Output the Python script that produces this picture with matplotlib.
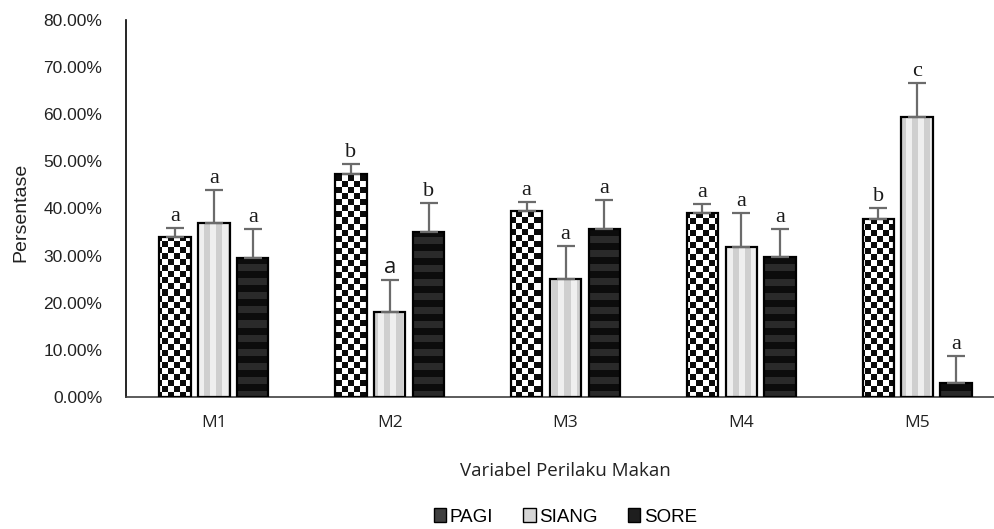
import numpy as np
import matplotlib
matplotlib.use("Agg")
import matplotlib.pyplot as plt
from matplotlib.colors import ListedColormap
from matplotlib.patches import Patch
from matplotlib.ticker import PercentFormatter, MultipleLocator

# data (percent)
categories = ["M1", "M2", "M3", "M4", "M5"]
series_names = ["PAGI", "SIANG", "SORE"]
pagi = [34.0, 47.4, 39.5, 39.0, 37.7]
pagi_err = [1.9, 2.1, 1.9, 2.0, 2.5]
siang = [37.0, 18.0, 25.0, 31.8, 59.5]
siang_err = [6.9, 6.8, 7.1, 7.2, 7.2]
sore = [29.5, 35.0, 35.7, 29.8, 2.9]
sore_err = [6.2, 6.2, 6.1, 5.8, 5.9]
pagi_letters = ["a", "b", "a", "a", "b"]
siang_letters = ["a", "a", "a", "a", "c"]
sore_letters = ["a", "b", "a", "a", "a"]

fig = plt.figure(figsize=(9.95, 5.29), dpi=100)
ax = fig.add_axes([126 / 995, 132 / 529, 879 / 995, 377 / 529])

xmin, xmax, ymin, ymax = -0.5, 4.5, 0, 80
ax.set_xlim(xmin, xmax)
ax.set_ylim(ymin, ymax)
ax.set_autoscale_on(False)

# pattern images (one cell ~ 6-7 px on screen)
ny, nx = 377, 879
checker = (np.add.outer(np.arange(ny) // 6, np.arange(nx) // 6) % 2)
vstripe = np.tile((np.arange(nx) // 6) % 2, (ny, 1))
hstripe = np.tile(((np.arange(ny) // 7) % 2)[:, None], (1, nx))
patterns = [
    (checker, ListedColormap(["#ffffff", "#0a0a0a"])),
    (vstripe, ListedColormap(["#efefef", "#cfcfcf"])),
    (hstripe, ListedColormap(["#0c0c0c", "#2a2a2a"])),
]

x = np.arange(len(categories))
width = 0.179
step = 0.221
values = [pagi, siang, sore]
errors = [pagi_err, siang_err, sore_err]
letters = [pagi_letters, siang_letters, sore_letters]

for i, (vals, errs, lets) in enumerate(zip(values, errors, letters)):
    xs = x + (i - 1) * step
    bars = ax.bar(xs, vals, width, facecolor="none", edgecolor="black",
                  linewidth=1.6, zorder=3)
    arr, cmap = patterns[i]
    for b in bars:
        im = ax.imshow(arr, cmap=cmap, extent=[xmin, xmax, ymin, ymax],
                       origin="upper", interpolation="nearest", aspect="auto",
                       zorder=2)
        im.set_clip_path(b)
    ax.errorbar(xs, vals, yerr=[np.zeros(len(vals)), errs], fmt="none",
                ecolor="#6b6b6b", elinewidth=1.6, capsize=6.5, capthick=1.6,
                zorder=4)
    for j, (xx, v, e, t) in enumerate(zip(xs, vals, errs, lets)):
        fam = "Liberation Serif"
        if i == 1 and j == 1:
            fam = "Open Sans"
        ax.annotate(t, (xx, v + e), xytext=(0, 5), textcoords="offset points",
                    ha="center", va="baseline", fontsize=16, family=fam,
                    color="#1a1a1a", zorder=5)

ax.set_xlim(xmin, xmax)
ax.set_ylim(ymin, ymax)

ax.set_xticks(x)
ax.set_xticklabels(categories, family="Open Sans", fontsize=12.5, color="#222222")
ax.yaxis.set_major_locator(MultipleLocator(10))
ax.yaxis.set_major_formatter(PercentFormatter(100, decimals=2))
for lab in ax.get_yticklabels():
    lab.set_family("Liberation Sans")
    lab.set_fontsize(12.5)
    lab.set_color("#222222")
ax.tick_params(axis="both", length=0)
ax.tick_params(axis="y", pad=17)
ax.tick_params(axis="x", pad=13)

for s in ["top", "right"]:
    ax.spines[s].set_visible(False)
ax.spines["left"].set_color("black")
ax.spines["left"].set_linewidth(1.2)
ax.spines["bottom"].set_color("#404040")
ax.spines["bottom"].set_linewidth(1.2)

ax.set_ylabel("Persentase", family="Liberation Sans", fontsize=14, color="#222222")
ax.yaxis.set_label_coords(-97 / 879, 0.49)
ax.set_xlabel("Variabel Perilaku Makan", family="Open Sans", fontsize=13.5,
              color="#222222")
ax.xaxis.set_label_coords(0.5, -65 / 377)

handles = [
    Patch(facecolor="#404040", edgecolor="black", label=series_names[0]),
    Patch(facecolor="#d6d6d6", edgecolor="black", label=series_names[1]),
    Patch(facecolor="#1e1e1e", edgecolor="black", label=series_names[2]),
]
leg = ax.legend(handles=handles, loc="center", bbox_to_anchor=(0.5, -120 / 377),
                ncol=3, frameon=False, handlelength=0.65, handleheight=0.7,
                handletextpad=0.2, columnspacing=1.6,
                prop={"family": "Liberation Sans", "size": 13.5})

fig.savefig("out.png", dpi=100)
